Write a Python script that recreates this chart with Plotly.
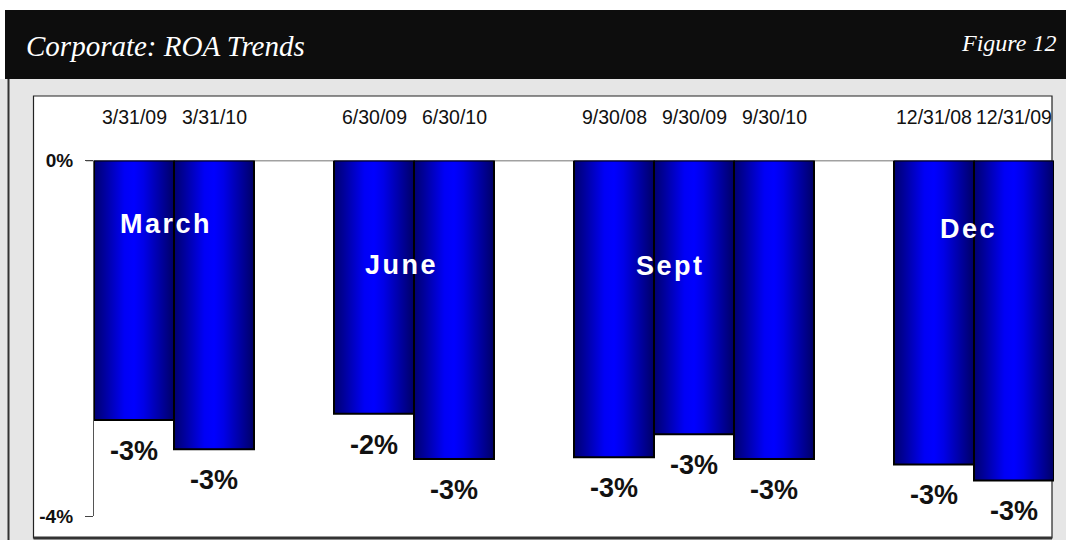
import plotly.graph_objects as go

# ---- data ----
months = ["March", "June", "Sept", "Dec"]
group_sizes = [2, 2, 3, 2]
dates = ["3/31/09", "3/31/10", "6/30/09", "6/30/10",
         "9/30/08", "9/30/09", "9/30/10", "12/31/08", "12/31/09"]
roa = [-2.92, -3.25, -2.85, -3.36, -3.34, -3.08, -3.36, -3.42, -3.60]
value_labels = ["-3%", "-3%", "-2%", "-3%", "-3%", "-3%", "-3%", "-3%", "-3%"]
month_label_offset = [-0.10, -0.16, -0.29, -0.07]
month_label_y = [-0.71, -1.18, -1.19, -0.77]
y_ticks = [0, -4]
y_tick_text = ["0%", "-4%"]

W, H = 1066, 540

# slot positions: bars within a group are adjacent, one empty slot between groups
positions = []
group_centers = []
slot = 0
for g, n in enumerate(group_sizes):
    group_centers.append(slot + (n - 1) / 2)
    for k in range(n):
        positions.append(slot)
        slot += 1
    slot += 1
last_slot = positions[-1]

fig = go.Figure()

grad = [[0, "#000070"], [0.12, "#000098"], [0.38, "#0000f5"], [0.5, "#0000ff"],
        [0.62, "#0000e8"], [0.88, "#000090"], [1, "#000065"]]

for p, v, d in zip(positions, roa, dates):
    fig.add_trace(go.Scatter(
        x=[p - 0.5, p + 0.5, p + 0.5, p - 0.5, p - 0.5],
        y=[0, 0, v, v, 0],
        mode="lines", fill="toself",
        fillgradient=dict(type="horizontal", colorscale=grad),
        line=dict(color="#000000", width=2),
        hoverinfo="text", text=d, showlegend=False,
    ))

# date labels above bars
for p, d in zip(positions, dates):
    fig.add_annotation(x=p, y=(H - 117) / H, text=d, showarrow=False, xref="x", yref="paper",
                       xanchor="center", yanchor="middle",
                       font=dict(family="Liberation Sans, Arial", size=19.5, color="#111"))

# value labels below bars
for p, v, t in zip(positions, roa, value_labels):
    fig.add_annotation(x=p, y=v, yshift=-31, text=t, showarrow=False, xref="x", yref="y",
                       xanchor="center", yanchor="middle",
                       font=dict(family="Liberation Sans, Arial", size=27, color="#111", weight="bold"))

# month labels on bars
for m, c, o, yy in zip(months, group_centers, month_label_offset, month_label_y):
    fig.add_annotation(x=c + o, y=yy, text="<span style='letter-spacing:2.5px'>" + m + "</span>",
                       showarrow=False, xref="x", yref="y", xanchor="center", yanchor="middle",
                       font=dict(family="Liberation Sans, Arial", size=27, color="white", weight="bold"))

# background panels
shapes = [
    dict(type="rect", xref="paper", yref="paper", x0=0, x1=1, y0=0, y1=(H - 79) / H,
         fillcolor="#e6e6e6", line=dict(width=0), layer="below"),
    dict(type="rect", xref="paper", yref="paper", x0=5 / W, x1=1, y0=(H - 79) / H, y1=(H - 10) / H,
         fillcolor="#0d0d0d", line=dict(width=0), layer="below"),
    dict(type="line", xref="paper", yref="paper", x0=8.5 / W, x1=8.5 / W, y0=0, y1=(H - 79) / H,
         line=dict(color="#333", width=2), layer="below"),
    dict(type="rect", xref="paper", yref="paper", x0=33.5 / W, x1=1052 / W, y0=2 / H, y1=(H - 96) / H,
         fillcolor="white", line=dict(color="#222", width=1.2), layer="below"),
    dict(type="line", xref="paper", yref="paper", x0=33.5 / W, x1=1052 / W, y0=2 / H, y1=2 / H,
         line=dict(color="#333", width=3), layer="below"),
    dict(type="line", xref="paper", yref="y", x0=86 / W, x1=1052 / W, y0=0, y1=0,
         line=dict(color="#444", width=1.3), layer="below"),
]

# title texts
fig.add_annotation(x=24 / W, y=(H - 46) / H, xref="paper", yref="paper",
                   xanchor="left", yanchor="middle",
                   text="Corporate: ROA Trends", showarrow=False,
                   font=dict(family="Liberation Serif, Times New Roman", size=29, color="white", style="italic"))
fig.add_annotation(x=1058 / W, y=(H - 43) / H, xref="paper", yref="paper",
                   xanchor="right", yanchor="middle",
                   text="Figure 12", showarrow=False,
                   font=dict(family="Liberation Serif, Times New Roman", size=24, color="white", style="italic"))

fig.update_layout(
    width=W, height=H,
    margin=dict(l=0, r=0, t=0, b=0, pad=0, autoexpand=False),
    paper_bgcolor="white", plot_bgcolor="rgba(0,0,0,0)",
    shapes=shapes,
    showlegend=False,
    xaxis=dict(range=[-0.5, last_slot + 0.5], domain=[94 / W, 1054 / W], visible=False,
               fixedrange=True, automargin=False),
    yaxis=dict(range=[-4, 0], domain=[(H - 516) / H, (H - 160.5) / H],
               tickvals=y_ticks, ticktext=y_tick_text, ticks="outside", ticklen=8,
               tickcolor="#444", showline=True, linecolor="#555", linewidth=1.2,
               showgrid=False, zeroline=False, ticklabelstandoff=8, automargin=False,
               fixedrange=True,
               tickfont=dict(family="Liberation Sans, Arial", size=19, color="#111", weight="bold")),
)

fig.write_html("out.html", config={"displayModeBar": False})
